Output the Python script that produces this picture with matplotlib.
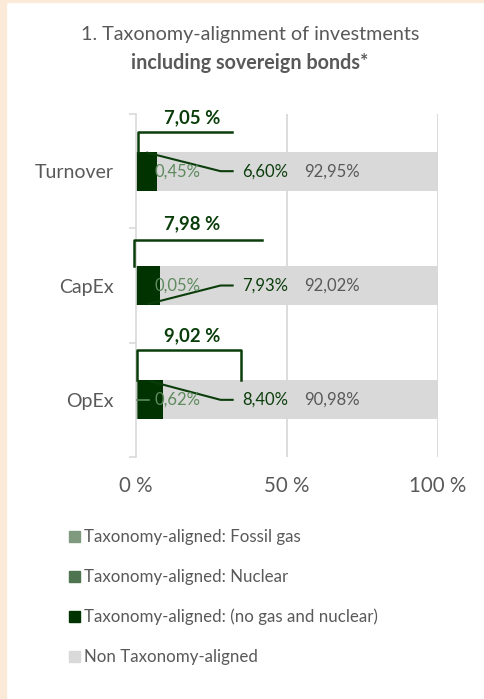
import matplotlib.pyplot as plt
from matplotlib.patches import Rectangle

plt.rcParams['font.family'] = ['Lato', 'DejaVu Sans']

categories = ['Turnover', 'CapEx', 'OpEx']
fossil_gas = [0.00, 0.00, 0.00]
nuclear = [0.45, 0.05, 0.62]
aligned = [6.60, 7.93, 8.40]
non_aligned = [92.95, 92.02, 90.98]
totals = ['7,05 %', '7,98 %', '9,02 %']
nuclear_labels = ['0,45%', '0,05%', '0,62%']
aligned_labels = ['6,60%', '7,93%', '8,40%']
non_labels = ['92,95%', '92,02%', '90,98%']
xticks = [0, 50, 100]
xtick_labels = ['0 %', '50 %', '100 %']
legend_labels = ['Taxonomy-aligned: Fossil gas', 'Taxonomy-aligned: Nuclear',
                 'Taxonomy-aligned: (no gas and nuclear)', 'Non Taxonomy-aligned']

c_gas = '#7f9a7f'
c_nuc = '#4f7550'
c_al = '#003300'
c_non = '#d9d9d9'
grey = '#595959'
dark = '#0b3d0b'

fig = plt.figure(figsize=(4.85, 6.99), dpi=100)
fig.patches.append(Rectangle((0, 0), 6 / 485, 1, transform=fig.transFigure,
                             color='#fbead8', zorder=0))
fig.patches.append(Rectangle((0, 1 - 2 / 699), 1, 2 / 699, transform=fig.transFigure,
                             color='#fbead8', zorder=0))

ax = fig.add_axes([0.2804, 0.3462, 0.6227, 0.4907])
y = list(range(len(categories)))
h = 0.34
left = [0] * 3
for vals, col in [(fossil_gas, c_gas), (nuclear, c_nuc), (aligned, c_al), (non_aligned, c_non)]:
    ax.barh(y, vals, left=left, height=h, color=col, zorder=2)
    left = [l + v for l, v in zip(left, vals)]

ax.set_xlim(0, 100)
ax.set_ylim(2.5, -0.5)
ax.set_yticks(y)
ax.set_yticklabels(categories, fontsize=14, color=grey)
ax.set_yticks([-0.5, 0.5, 1.5, 2.5], minor=True)
ax.tick_params(axis='y', which='major', length=0, pad=16)
ax.tick_params(axis='y', which='minor', length=5, color='#d9d9d9', width=1.2)
ax.set_xticks(xticks)
ax.set_xticklabels(xtick_labels, fontsize=14.8, color=grey)
ax.tick_params(axis='x', length=0, pad=14)
for s in ['top', 'right', 'bottom']:
    ax.spines[s].set_visible(False)
ax.spines['left'].set_color('#d9d9d9')
ax.spines['left'].set_linewidth(1.2)
for xv in xticks[1:]:
    ax.axvline(xv, color='#d9d9d9', lw=1.3, zorder=1)

# bracket shapes above each bar
br_left = [0.7, -0.6, 0.3]
br_right = [31.8, 41.7, 34.8]
br_off = [0.34, 0.40, 0.44]
lab_off = [0.47, 0.54, 0.56]
for i in y:
    top = i - h / 2
    yb = i - br_off[i]
    xs = [br_left[i], br_left[i], br_right[i]]
    ys = [top, yb, yb]
    if i == 2:
        xs.append(br_right[i])
        ys.append(top)
    ax.plot(xs, ys, color=dark, lw=1.8, solid_joinstyle='round', clip_on=False, zorder=4)
    ax.text(18.5, i - lab_off[i], totals[i], ha='center', va='center',
            fontsize=13.3, fontweight='bold', color=dark)

# leader lines and data labels
ends = [-1, 1, -1]
for i in y:
    x0 = fossil_gas[i] + nuclear[i] + aligned[i] / 2
    y0 = i + ends[i] * h / 2 * 0.95
    ax.plot([x0, 28.0, 32.0], [y0, i, i], color=dark, lw=1.5, zorder=4)
    ax.text(35.2, i, aligned_labels[i], ha='left', va='center', fontsize=12, color=dark, zorder=5)
    ax.text(13.9, i, nuclear_labels[i], ha='center', va='center', fontsize=12,
            color='#5e8a5e', zorder=5)
    ax.text(65.0, i, non_labels[i], ha='center', va='center', fontsize=12, color=grey, zorder=5)
ax.plot([0.4, 4.3], [2, 2], color='#5e8a5e', lw=1.2, zorder=4)

fig.text(0.515, 0.951, '1. Taxonomy-alignment of investments', ha='center', va='center',
         fontsize=14.2, color=grey)
fig.text(0.515, 0.910, 'including sovereign bonds*', ha='center', va='center',
         fontsize=14.2, fontweight='bold', color=grey)

handles = [Rectangle((0, 0), 1, 1, color=c) for c in [c_gas, c_nuc, c_al, c_non]]
fig.legend(handles, legend_labels, loc='upper left', bbox_to_anchor=(61 / 485, 1 - 521 / 699),
           frameon=False, fontsize=12.2, handlelength=0.65, handleheight=0.65,
           handletextpad=0.2, labelspacing=1.4, borderpad=0, labelcolor=grey)

fig.savefig('out.png', dpi=100)
